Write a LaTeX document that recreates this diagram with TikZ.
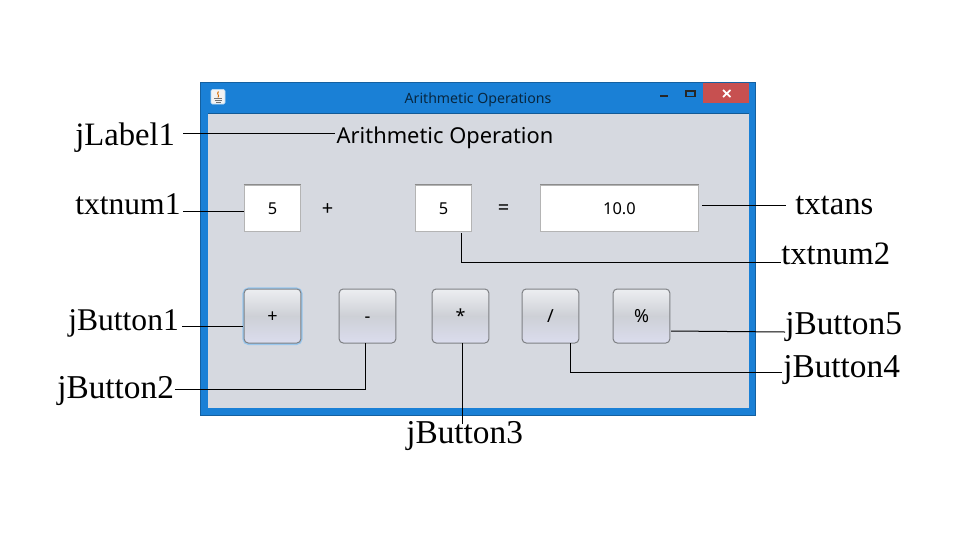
\documentclass[tikz,border=0pt]{standalone}
\usepackage{fontspec}
\setmainfont{Liberation Serif}
\newfontfamily\guifont{Noto Sans}
\usetikzlibrary{positioning}
\definecolor{winblue}{HTML}{1A80D6}
\definecolor{panelgray}{HTML}{D6D9E0}
\definecolor{closered}{HTML}{C75050}
\definecolor{fieldedge}{HTML}{B4B4B4}
\definecolor{btnedge}{HTML}{7E8084}
\tikzset{
  callout/.style={anchor=base west, inner sep=0pt, font=\fontsize{24.5}{28}\selectfont},
  calloutsmall/.style={callout, font=\fontsize{23.7}{28}\selectfont},
  calloutbtn/.style={callout, font=\fontsize{25}{28}\selectfont},
  lead/.style={draw=black, line width=0.75pt},
  field/.style={draw=fieldedge, line width=0.75pt, fill=white, inner sep=0pt, text height=9pt, text depth=0pt, font=\guifont\fontsize{12.3}{14}\selectfont},
  btn/.style={draw=btnedge, line width=0.75pt, rounded corners=3pt, inner sep=0pt,
    minimum width=42.5pt, minimum height=40.5pt, text height=9.5pt, text depth=0pt,
    top color=white!55!panelgray, bottom color=white!40!panelgray!95!blue, middle color=panelgray!90!gray,
    font=\guifont\fontsize{13.5}{15}\selectfont},
  guitext/.style={inner sep=0pt, font=\guifont\fontsize{15}{18}\selectfont},
}
\begin{document}
\begin{tikzpicture}[x=0.75pt, y=-0.75pt]
  \useasboundingbox (0,0) rectangle (975,533);
  \fill[white] (0,0) rectangle (975,533);
  \draw[fill=winblue, draw=winblue!75!black, line width=0.75pt] (200.5,82.5) rectangle (755.5,415.5);
  \fill[panelgray] (208,113) rectangle (749,408);
  \draw[winblue!70!black, line width=0.5pt] (208,113) -- (749,113);
  % title bar
  \node[inner sep=0pt, text=black!70!winblue, font=\guifont\fontsize{10.6}{13}\selectfont] (wintitle) at (478,99.5) {Arithmetic Operations};
  \draw[fill=black!5, draw=white!70!winblue, rounded corners=1pt, line width=0.5pt] (211,89.5) rectangle (225,104);
  \draw[orange!85!black, line width=0.7pt] (218.5,91.5) .. controls (216,94) and (220,95) .. (218,97.5);
  \draw[black!55, line width=0.7pt] (214,98) -- (222,98) (214.5,100.5) -- (221.5,100.5) (216,102.5) -- (221,102.5);
  \fill[closered] (703,83) rectangle (749,103);
  \draw[white, line width=1.3pt] (723,90) -- (730.5,97) (730.5,90) -- (723,97);
  \draw[black!85, line width=1.5pt] (660,95.5) -- (668,95.5);
  \draw[black!85, line width=0.8pt] (686,90.5) rectangle (695,96.5);
  \draw[black!85, line width=1.5pt] (686,90.5) -- (695,90.5);
  % widgets
  \node[inner sep=0pt, anchor=base, font=\guifont\fontsize{16.4}{20}\selectfont] (heading) at (445,143) {Arithmetic Operation};
  \node[field, minimum width=42.5pt, minimum height=35pt] (txtfirst) at (272.5,208.5) {5};
  \node[guitext] (plussign) at (327.5,210) {+};
  \node[field, minimum width=42.5pt, minimum height=35pt] (txtsecond) at (443.5,208.5) {5};
  \node[guitext] (equalsign) at (503.5,210) {=};
  \node[field, minimum width=118.5pt, minimum height=35pt] (txtresult) at (619.5,208.5) {10.0};
  \draw[black!45, line width=0.75pt] (txtfirst.north west) -- (txtfirst.north east);
  \draw[black!45, line width=0.75pt] (txtsecond.north west) -- (txtsecond.north east);
  \draw[black!45, line width=0.75pt] (txtresult.north west) -- (txtresult.north east);
  \draw[winblue!45, line width=2.4pt, rounded corners=3.5pt] (244,289) rectangle (301,343.5);
  \node[btn] (btnadd) at (272.5,316) {+};
  \node[btn] (btnsub) at (367.5,316) {-};
  \node[btn] (btnmul) at (460.5,316) {*};
  \node[btn] (btndiv) at (550.5,316) {/};
  \node[btn] (btnmod) at (641.5,316) {\%};
  % callouts
  \node[callout] (jlabelone) at (75,145) {jLabel1};
  \node[calloutsmall] (numone) at (75,214) {txtnum1};
  \node[callout] (numtwo) at (781,264) {txtnum2};
  \node[callout] (numans) at (795,214) {txtans};
  \node[calloutsmall] (jbtnone) at (68,330) {jButton1};
  \node[calloutbtn] (jbtntwo) at (57,398) {jButton2};
  \node[calloutbtn] (jbtnthree) at (406,443) {jButton3};
  \node[calloutbtn] (jbtnfour) at (783,377) {jButton4};
  \node[calloutbtn] (jbtnfive) at (785,334) {jButton5};
  % leads
  \coordinate (headingend) at (183,133.5);
  \coordinate (headingtip) at (335,133.5);
  \coordinate (numoneend) at (183,211.5);
  \coordinate (numonetip) at (243.5,211.5);
  \coordinate (numansend) at (786,205);
  \coordinate (numanstip) at (702,205);
  \coordinate (numtwoend) at (781,262);
  \coordinate (numtwotip) at (461,233);
  \coordinate (btnoneend) at (182,326.5);
  \coordinate (btnonetip) at (243,326.5);
  \coordinate (btntwoend) at (175,389);
  \coordinate (btntwotip) at (365.5,343);
  \coordinate (btnthreetip) at (462,343);
  \coordinate (btnthreeend) at (462,424);
  \coordinate (btnfourtip) at (570,343);
  \coordinate (btnfourend) at (782,372);
  \coordinate (btnfivetip) at (671,331);
  \coordinate (btnfiveend) at (785,332);
  \draw[lead] (headingend) -- (headingtip);
  \draw[lead] (numoneend) -- (numonetip);
  \draw[lead] (numanstip) -- (numansend);
  \draw[lead] (numtwotip) |- (numtwoend);
  \draw[lead] (btnoneend) -- (btnonetip);
  \draw[lead] (btntwoend) -| (btntwotip);
  \draw[lead] (btnthreetip) -- (btnthreeend);
  \draw[lead] (btnfourtip) |- (btnfourend);
  \draw[lead] (btnfivetip) -- (btnfiveend);
\end{tikzpicture}
\end{document}
